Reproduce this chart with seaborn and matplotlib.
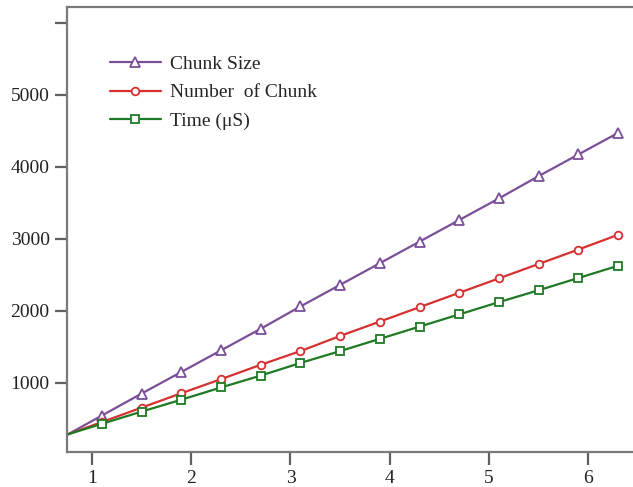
import matplotlib
matplotlib.use("Agg")
import matplotlib.pyplot as plt
import seaborn as sns
import pandas as pd

# data
x_vals = [0.7, 1.1, 1.5, 1.9, 2.3, 2.7, 3.1, 3.5, 3.9, 4.3, 4.7, 5.1, 5.5, 5.9, 6.3]
chunk_size = [240, 545, 850, 1150, 1450, 1750, 2060, 2360, 2660, 2960, 3260, 3560, 3870, 4170, 4470]
num_chunk = [255, 455, 655, 855, 1050, 1250, 1440, 1650, 1850, 2050, 2250, 2450, 2650, 2850, 3055]
time_us = [260, 430, 600, 765, 935, 1100, 1275, 1440, 1610, 1780, 1950, 2120, 2285, 2455, 2625]

series_names = ["Chunk Size", "Number  of Chunk", "Time (\u03bcS)"]
series_colors = ["#7b4f98", "#d63030", "#1f7a24"]
series_markers = ["^", "o", "s"]
marker_sizes = [6.5, 5.5, 5.5]

sns.set_style("ticks")
plt.rcParams["font.family"] = ["Liberation Serif", "DejaVu Serif"]

fig = plt.figure(figsize=(6.33, 4.87), dpi=100)
ax = fig.add_axes([0.106, 0.072, 0.894, 0.914])

for name, vals, color, mk, ms in zip(series_names, [chunk_size, num_chunk, time_us],
                                     series_colors, series_markers, marker_sizes):
    df = pd.DataFrame({"x": x_vals, "y": vals})
    sns.lineplot(data=df, x="x", y="y", ax=ax, color=color, linewidth=1.6,
                 marker=mk, markersize=ms, markerfacecolor="white",
                 markeredgecolor=color, markeredgewidth=1.3, label=name)

ax.set_xlim(0.75, 6.45)
ax.set_ylim(40, 6220)
ax.set_xticks([1, 2, 3, 4, 5, 6])
ax.set_yticks([1000, 2000, 3000, 4000, 5000, 6000])
ax.set_yticklabels(["1000", "2000", "3000", "4000", "5000", ""])
ax.set_xlabel("")
ax.set_ylabel("")

for side in ["left", "bottom", "top"]:
    ax.spines[side].set_color("#7a7a7a")
    ax.spines[side].set_linewidth(1.6)
ax.spines["right"].set_visible(False)
ax.tick_params(axis="both", direction="out", length=9, width=1.6,
               color="#606060", labelsize=14, labelcolor="#222222")
ax.tick_params(axis="x", pad=4)

ax.legend(loc="upper left", bbox_to_anchor=(0.045, 0.93), frameon=False,
          fontsize=14, handlelength=2.6, labelspacing=0.55, handletextpad=0.5)

fig.savefig("out.png", dpi=100)
